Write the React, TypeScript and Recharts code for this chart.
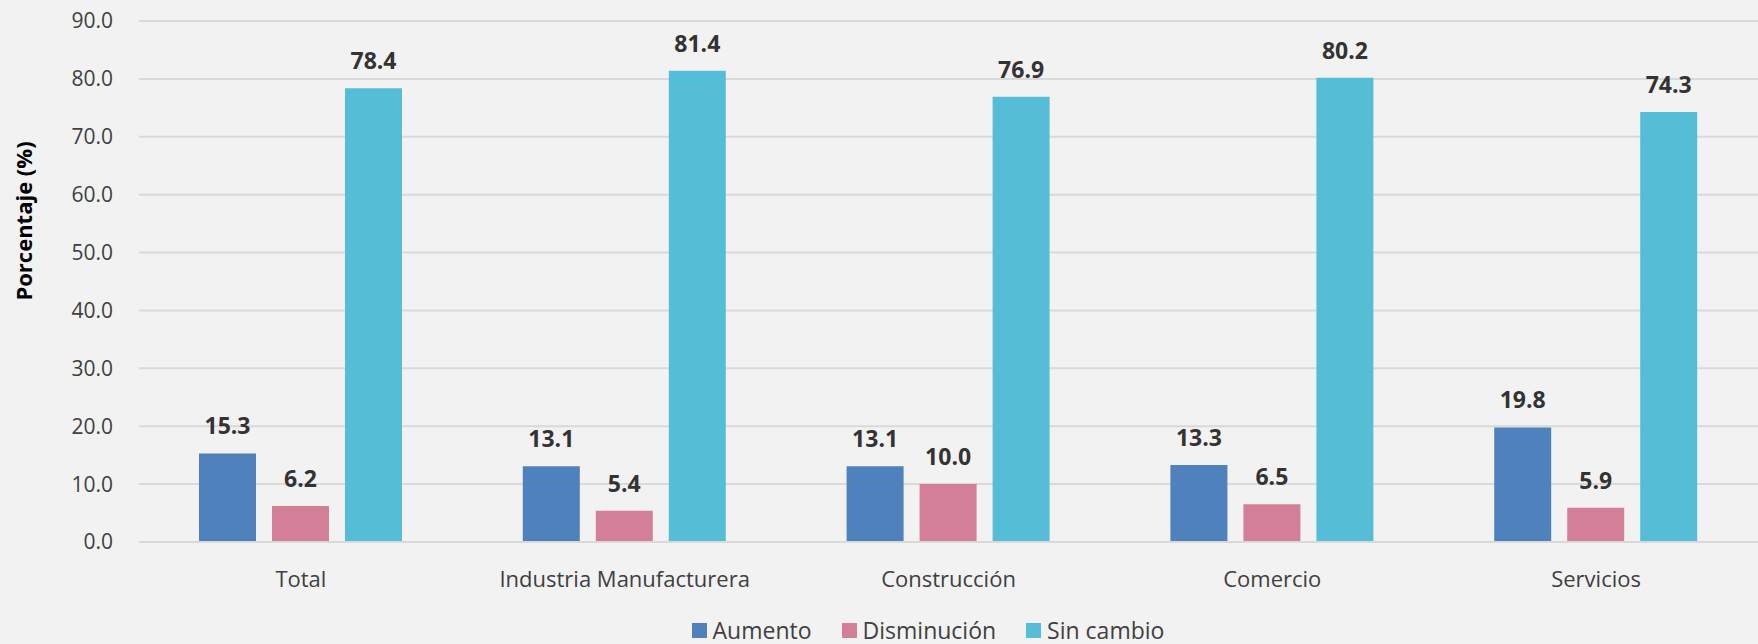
import React from 'react';
import { BarChart, Bar, XAxis, YAxis, CartesianGrid, Legend, LabelList } from 'recharts';

const categories = ['Total', 'Industria Manufacturera', 'Construcción', 'Comercio', 'Servicios'];
const aumento = [15.3, 13.1, 13.1, 13.3, 19.8];
const disminucion = [6.2, 5.4, 10.0, 6.5, 5.9];
const sinCambio = [78.4, 81.4, 76.9, 80.2, 74.3];
const yTicks = [0, 10, 20, 30, 40, 50, 60, 70, 80, 90];

const series = [
  { key: 'aumento', name: 'Aumento', color: '#4f81bd' },
  { key: 'disminucion', name: 'Disminución', color: '#d47f98' },
  { key: 'sinCambio', name: 'Sin cambio', color: '#55bed6' },
];

const data = categories.map((name, i) => ({
  name,
  aumento: aumento[i],
  disminucion: disminucion[i],
  sinCambio: sinCambio[i],
}));

const FONT = '"Open Sans", "Noto Sans", sans-serif';
const TEXT = '#404040';

const fmt = (v: any) => Number(v).toFixed(1);

// legend drawn by hand so spacing matches the original
const renderLegend = () => (
  <div
    style={{
      height: 42,
      display: 'flex',
      alignItems: 'center',
      justifyContent: 'center',
      gap: 30,
      transform: 'translate(49px, 7px)',
      fontFamily: FONT,
      fontSize: 23,
      lineHeight: '28px',
      color: TEXT,
    }}
  >
    {series.map((s) => (
      <div key={s.key} style={{ display: 'flex', alignItems: 'center', gap: 6 }}>
        <span style={{ width: 15, height: 15, background: s.color, display: 'inline-block' }} />
        <span>{s.name}</span>
      </div>
    ))}
  </div>
);

const renderYLabel = () => (
  <text
    x={23}
    y={221}
    transform="rotate(-90 23 221)"
    textAnchor="middle"
    dominantBaseline="central"
    fill="#000"
    fontSize={22}
    fontWeight={700}
    fontFamily={FONT}
  >
    Porcentaje (%)
  </text>
);

export default function App() {
  return (
    <div style={{ position: 'absolute', left: 0, top: 0, width: 1758, height: 644, background: '#f2f2f2', fontFamily: FONT }}>
      <BarChart
        width={1758}
        height={644}
        data={data}
        margin={{ top: 21, right: 0, left: 0, bottom: 0 }}
        barSize={57}
        barGap={16}
      >
        <CartesianGrid vertical={false} stroke="#d9d9d9" strokeWidth={2} />
        <XAxis
          dataKey="name"
          height={60}
          axisLine={{ stroke: '#d9d9d9', strokeWidth: 2 }}
          tickLine={false}
          tickMargin={23}
          tick={{ fill: TEXT, fontSize: 22, fontFamily: FONT }}
          interval={0}
        />
        <YAxis
          width={139}
          domain={[0, 90]}
          ticks={yTicks}
          axisLine={false}
          tickLine={false}
          tickMargin={20}
          tickFormatter={fmt}
          tick={{ fill: TEXT, fontSize: 21, fontFamily: FONT }}
          label={{ content: renderYLabel }}
        />
        <Legend verticalAlign="bottom" height={42} content={renderLegend} />
        {series.map((s) => (
          <Bar key={s.key} dataKey={s.key} name={s.name} fill={s.color} isAnimationActive={false}>
            <LabelList
              dataKey={s.key}
              position="top"
              offset={19}
              formatter={fmt}
              fill="#333"
              fontSize={23}
              fontWeight={700}
              fontFamily={FONT}
            />
          </Bar>
        ))}
      </BarChart>
    </div>
  );
}
